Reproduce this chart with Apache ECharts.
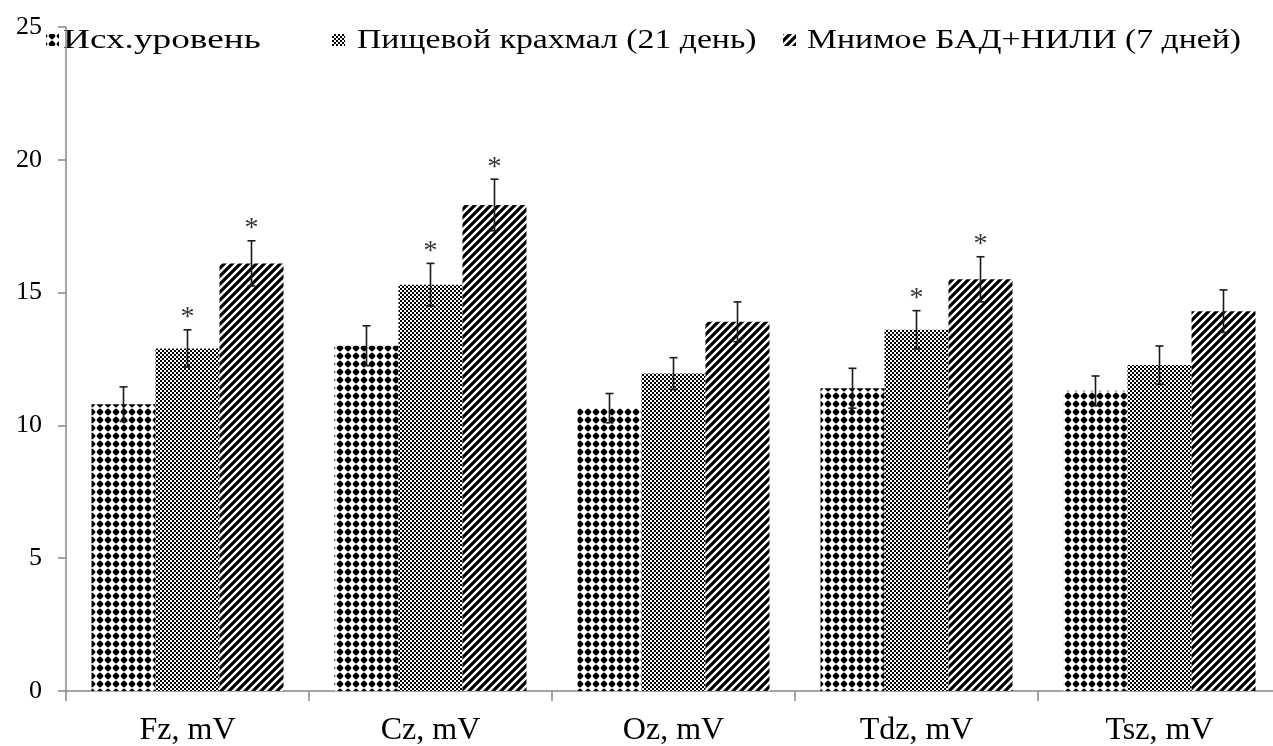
<!DOCTYPE html>
<html>
<head>
<meta charset="utf-8">
<script src="https://cdn.jsdelivr.net/npm/echarts@6/dist/echarts.min.js"></script>
<style>
  html, body { margin: 0; padding: 0; background: #fff; }
  #chart { width: 1273px; height: 746px; }
</style>
</head>
<body>
<div id="chart"></div>
<script>
// Categories and series
const categories = ['Fz, mV', 'Cz, mV', 'Oz, mV', 'Tdz, mV', 'Tsz, mV'];
const seriesNames = ['Исх.уровень', 'Пищевой крахмал (21 день)', 'Мнимое БАД+НИЛИ (7 дней)'];

const baseline   = [10.8, 13.0, 10.65, 11.4, 11.3];
const starch     = [12.9, 15.3, 11.95, 13.6, 12.27];
const sham       = [16.1, 18.3, 13.9, 15.5, 14.3];

const baselineErr = [0.65, 0.75, 0.55, 0.75, 0.56];
const starchErr   = [0.70, 0.80, 0.60, 0.72, 0.72];
const shamErr     = [0.85, 0.97, 0.75, 0.85, 0.80];

// Significance marks (*) per bar
const baselineSig = [false, false, false, false, false];
const starchSig   = [true, true, false, true, false];
const shamSig     = [true, true, false, true, false];

const yTicks = { min: 0, max: 25, interval: 5 };

// Fill patterns
function makeTile(size, draw) {
  const c = document.createElement('canvas');
  c.width = size; c.height = size;
  const ctx = c.getContext('2d');
  ctx.fillStyle = '#fff';
  ctx.fillRect(0, 0, size, size);
  draw(ctx, size);
  return c;
}
const dotTile = makeTile(8, (ctx) => {
  ctx.fillStyle = '#000';
  ctx.beginPath();
  ctx.moveTo(4, 0.3); ctx.lineTo(7.7, 4); ctx.lineTo(4, 7.7); ctx.lineTo(0.3, 4);
  ctx.closePath(); ctx.fill();
  ctx.beginPath();
  ctx.arc(4, 4, 2.7, 0, Math.PI * 2);
  ctx.fill();
});
const checkTile = makeTile(4, (ctx) => {
  ctx.fillStyle = '#000';
  ctx.fillRect(0, 0, 2, 2);
  ctx.fillRect(2, 2, 2, 2);
});
const stripeTile = makeTile(8, (ctx) => {
  ctx.strokeStyle = '#000';
  ctx.lineWidth = 3.2;
  ctx.beginPath();
  ctx.moveTo(-1, 9); ctx.lineTo(9, -1);
  ctx.moveTo(-5, 5); ctx.lineTo(5, -5);
  ctx.moveTo(3, 13); ctx.lineTo(13, 3);
  ctx.stroke();
});
const fills = [
  { image: dotTile, repeat: 'repeat' },
  { image: checkTile, repeat: 'repeat' },
  { image: stripeTile, repeat: 'repeat' }
];

const values = [baseline, starch, sham];
const errors = [baselineErr, starchErr, shamErr];
const sigs = [baselineSig, starchSig, shamSig];

const BAR_W = 64;
const FONT = '"Liberation Serif", "Times New Roman", serif';

const barSeries = values.map((v, i) => ({
  name: seriesNames[i],
  type: 'bar',
  data: v,
  barWidth: BAR_W,
  barGap: '0%',
  itemStyle: { color: fills[i] },
  emphasis: { disabled: true },
  z: 2
}));

// Error bars and significance stars drawn on top of each bar
const errSeries = values.map((v, i) => ({
  type: 'custom',
  name: seriesNames[i] + ' err',
  data: v.map((val, k) => [k, val, errors[i][k], sigs[i][k] ? 1 : 0]),
  z: 5,
  silent: true,
  renderItem: function (params, api) {
    const k = api.value(0);
    const val = api.value(1);
    const e = api.value(2);
    const sig = api.value(3);
    const off = (i - 1) * BAR_W;
    const top = api.coord([k, val + e]);
    const bot = api.coord([k, val - e]);
    const x = top[0] + off;
    const cap = 4;
    const style = { stroke: '#1a1a1a', lineWidth: 1.6 };
    const children = [
      { type: 'line', shape: { x1: x, y1: top[1], x2: x, y2: bot[1] }, style },
      { type: 'line', shape: { x1: x - cap, y1: top[1], x2: x + cap, y2: top[1] }, style },
      { type: 'line', shape: { x1: x - cap, y1: bot[1], x2: x + cap, y2: bot[1] }, style }
    ];
    if (sig) {
      children.push({
        type: 'text',
        style: {
          text: '*', x: x, y: top[1] + 2,
          textAlign: 'center', textVerticalAlign: 'bottom',
          font: '28px ' + FONT, fill: '#333'
        }
      });
    }
    return { type: 'group', children };
  }
}));

// Legend: pattern swatch followed by its (widened) caption
const legendIconX = [46, 332, 783];
const legendTextX = [63, 357, 807];
const legendScale = [1.38, 1.25, 1.25];
const legendGraphics = [];
seriesNames.forEach((name, i) => {
  legendGraphics.push({
    type: 'rect',
    shape: { x: legendIconX[i], y: 34, width: 13, height: 12 },
    style: { fill: fills[i] }
  });
  legendGraphics.push({
    type: 'text',
    x: legendTextX[i],
    y: 41,
    scaleX: legendScale[i],
    style: {
      text: name, x: 0, y: 0,
      textVerticalAlign: 'middle',
      font: '27px ' + FONT, fill: '#000'
    }
  });
});

const chart = echarts.init(document.getElementById('chart'), null, { renderer: 'canvas' });
chart.setOption({
  animation: false,
  backgroundColor: '#fff',
  grid: {
    left: 66, top: 27, width: 1215, height: 664,
    containLabel: false, outerBoundsMode: 'none'
  },
  xAxis: {
    type: 'category',
    data: categories,
    axisLine: { lineStyle: { color: '#888', width: 1.5 } },
    axisTick: { show: true, length: 10, lineStyle: { color: '#888', width: 1.5 } },
    axisLabel: { fontFamily: FONT, fontSize: 32, color: '#000', margin: 24 },
    splitLine: { show: false }
  },
  yAxis: {
    type: 'value',
    min: yTicks.min, max: yTicks.max, interval: yTicks.interval,
    axisLine: { show: true, lineStyle: { color: '#888', width: 1.5 } },
    axisTick: { show: true, length: 8, lineStyle: { color: '#888', width: 1.5 } },
    axisLabel: { fontFamily: FONT, fontSize: 26, color: '#000', margin: 24 },
    splitLine: { show: false }
  },
  graphic: legendGraphics,
  series: [...barSeries, ...errSeries]
});
</script>
</body>
</html>
